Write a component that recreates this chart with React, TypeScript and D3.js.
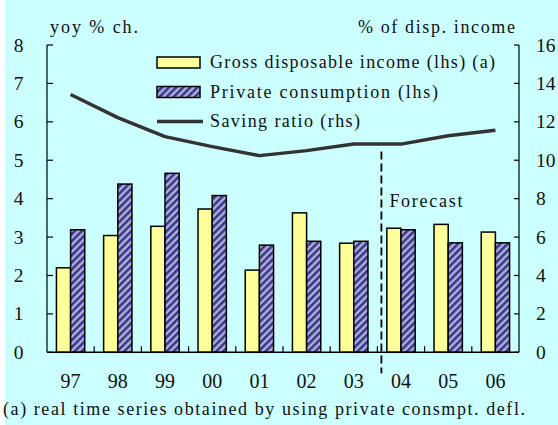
import React from "react";
import * as d3 from "d3";

const years = ["97", "98", "99", "00", "01", "02", "03", "04", "05", "06"];
const grossIncome = [2.2, 3.04, 3.28, 3.73, 2.14, 3.63, 2.84, 3.23, 3.33, 3.13];
const privateConsumption = [3.19, 4.38, 4.66, 4.08, 2.79, 2.89, 2.89, 3.19, 2.85, 2.85];
const savingRatio = [13.42, 12.22, 11.23, 10.71, 10.24, 10.5, 10.84, 10.84, 11.27, 11.56];
const leftTicks = [0, 1, 2, 3, 4, 5, 6, 7, 8];
const rightTicks = [0, 2, 4, 6, 8, 10, 12, 14, 16];
const legendLabels = [
  "Gross disposable income (lhs) (a)",
  "Private consumption (lhs)",
  "Saving ratio (rhs)",
];
const forecastStartIndex = 7;

const W = 558;
const H = 425;
const FONT = "'Liberation Serif', 'Times New Roman', serif";

export default function App() {
  const left = 47;
  const right = 519;
  const top = 45;
  const bottom = 352.3;

  const x = d3.scaleBand<string>().domain(years).range([left, right]).paddingInner(0.4).paddingOuter(0.2);
  const step = x.step();
  const bw = x.bandwidth() / 2;
  const yL = d3.scaleLinear().domain([0, 8]).range([bottom, top]);
  const yR = d3.scaleLinear().domain([0, 16]).range([bottom, top]);

  const line = d3
    .line<number>()
    .x((_, i) => (x(years[i]) as number) + x.bandwidth() / 2)
    .y((d) => yR(d));

  const boundary = (i: number) => left + i * step;
  const forecastX = boundary(forecastStartIndex) + 4;

  return (
    <svg width={W} height={H} style={{ position: "absolute", left: 0, top: 0 }} fontFamily={FONT} fill="#111">
      <defs>
        <pattern id="hatch" width="5" height="5" patternUnits="userSpaceOnUse" patternTransform="rotate(45)">
          <rect width="5" height="5" fill="#B4B4C8" />
          <rect width="2.6" height="5" fill="#35359A" />
        </pattern>
      </defs>
      <rect x={5} y={0} width={W - 5} height={H} fill="#CCFFFF" />

      {/* bars */}
      {years.map((yr, i) => (
        <g key={yr}>
          <rect
            x={x(yr) as number}
            y={yL(grossIncome[i])}
            width={bw}
            height={bottom - yL(grossIncome[i])}
            fill="#FFFF99"
            stroke="#000"
            strokeWidth={1.5}
          />
          <rect
            x={(x(yr) as number) + bw}
            y={yL(privateConsumption[i])}
            width={bw}
            height={bottom - yL(privateConsumption[i])}
            fill="url(#hatch)"
            stroke="#000"
            strokeWidth={1.5}
          />
        </g>
      ))}

      {/* saving ratio line */}
      <path d={line(savingRatio) || ""} fill="none" stroke="#333333" strokeWidth={3.5} strokeLinejoin="round" />

      {/* forecast dashed line */}
      <line
        x1={forecastX}
        x2={forecastX}
        y1={yR(10.45)}
        y2={bottom + 21}
        stroke="#000"
        strokeWidth={1.8}
        strokeDasharray="8,4"
      />
      <text x={forecastX + 8} y={206.7} fontSize={18} textLength={73} lengthAdjust="spacing">
        Forecast
      </text>

      {/* axes */}
      <line x1={left} x2={left} y1={top} y2={bottom} stroke="#000" strokeWidth={1.2} />
      <line x1={right} x2={right} y1={top} y2={bottom} stroke="#000" strokeWidth={1.2} />
      <line x1={left} x2={right} y1={bottom} y2={bottom} stroke="#000" strokeWidth={1.6} />
      {leftTicks.map((t) => (
        <g key={"l" + t}>
          <line x1={left} x2={left + 6} y1={yL(t)} y2={yL(t)} stroke="#000" strokeWidth={1.2} />
          <text x={18.5} y={yL(t) + 6.5} fontSize={19.5} textAnchor="middle">
            {t}
          </text>
        </g>
      ))}
      {rightTicks.map((t) => (
        <g key={"r" + t}>
          <line x1={right - 5} x2={right} y1={yR(t)} y2={yR(t)} stroke="#000" strokeWidth={1.2} />
          <text x={536} y={yR(t) + 6.5} fontSize={19.5} textAnchor="start">
            {t}
          </text>
        </g>
      ))}
      {years.slice(1).map((yr, i) => (
        <line key={"bt" + yr} x1={boundary(i + 1)} x2={boundary(i + 1)} y1={bottom} y2={bottom - 6} stroke="#000" strokeWidth={1.2} />
      ))}
      {years.map((yr) => (
        <text key={"xl" + yr} x={(x(yr) as number) + x.bandwidth() / 2} y={388.3} fontSize={20} textAnchor="middle">
          {yr}
        </text>
      ))}

      {/* axis titles */}
      <text x={50} y={33} fontSize={18} textLength={88} lengthAdjust="spacing">
        yoy % ch.
      </text>
      <text x={358} y={33} fontSize={18} textLength={157} lengthAdjust="spacing">
        % of disp. income
      </text>

      {/* legend */}
      <rect x={157} y={57} width={43} height={11} fill="#FFFF99" stroke="#000" strokeWidth={1.5} />
      <text x={210} y={68} fontSize={18} textLength={285} lengthAdjust="spacing">
        {legendLabels[0]}
      </text>
      <rect x={157} y={86.5} width={43} height={11} fill="url(#hatch)" stroke="#000" strokeWidth={1.5} />
      <text x={210} y={97.5} fontSize={18} textLength={228} lengthAdjust="spacing">
        {legendLabels[1]}
      </text>
      <line x1={157} x2={203} y1={121.5} y2={121.5} stroke="#333333" strokeWidth={3.5} />
      <text x={210} y={127} fontSize={18} textLength={150} lengthAdjust="spacing">
        {legendLabels[2]}
      </text>

      {/* footnote */}
      <text x={3} y={415} fontSize={18} textLength={522} lengthAdjust="spacing">
        (a) real time series obtained by using private consmpt. defl.
      </text>
    </svg>
  );
}
